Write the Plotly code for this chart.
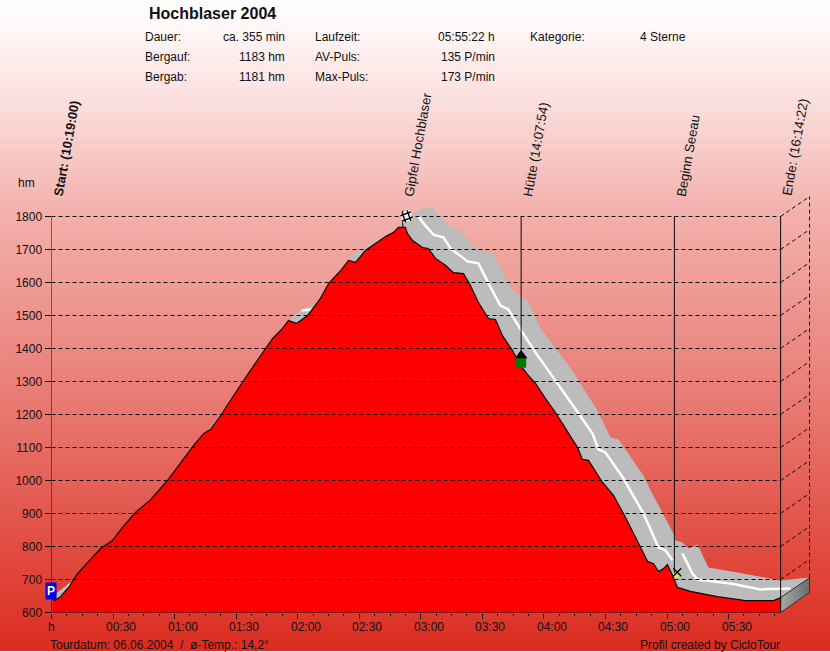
import plotly.graph_objects as go

# minutes since start / height in hm
profile_min = [0.5, 1.5, 4.4, 8.3, 12.7, 17.5, 23.9, 29.7, 34.6, 40.9, 48.3, 56.5, 62.9, 69.2, 74.1, 77.5, 82.4, 93.6,
               104.3, 107.7, 112.6, 115.5, 119.4, 124.8, 131.1, 135.0, 140.9, 144.8, 148.2, 153.0, 157.9, 162.8, 166.7,
               169.1, 172.5, 173.5, 176.0, 180.8, 183.7, 187.2, 192.0, 195.9, 200.8, 204.2, 208.1, 213.0, 216.4, 219.8,
               224.7, 228.6, 232.5, 235.9, 240.8, 245.6, 250.5, 256.4, 258.8, 261.7, 268.6, 273.9, 279.8, 284.6, 288.0,
               290.5, 293.4, 295.9, 298.3, 300.2, 302.7, 305.1, 311.4, 324.6, 338.3, 351.9, 355.4]
profile_hm = [645, 636, 648, 676, 718, 752, 794, 818, 858, 903, 942, 1000, 1052, 1106, 1142, 1155, 1197, 1303,
              1400, 1430, 1461, 1485, 1476, 1500, 1552, 1597, 1636, 1667, 1661, 1697, 1718, 1739, 1752,
              1767, 1767, 1748, 1727, 1706, 1703, 1673, 1652, 1630, 1627, 1591, 1539, 1491, 1488, 1439,
              1394, 1348, 1318, 1294, 1248, 1206, 1158, 1100, 1064, 1061, 994, 955, 888, 827, 782,
              755, 748, 724, 733, 745, 712, 676, 664, 648, 636, 636, 645]

band_min = [1.5, 2.9, 9.3, 13.2, 43.4, 111.6, 116.5, 121.4, 128.7, 133.5, 140.9, 144.8, 148.2, 153.0, 162.8, 167.7,
            170.1, 177.4, 181.3, 186.2, 188.6, 194.5, 198.4, 205.7, 215.4, 223.7, 229.6, 232.0, 238.3, 248.1, 253.9,
            257.8, 266.1, 272.5, 276.4, 288.5, 292.0, 303.2, 304.1, 307.5, 310.5, 314.9, 316.3, 320.2, 334.4, 355.3, 369.5]
band_hm = [636, 661, 691, 718, 885, 1440, 1491, 1515, 1536, 1560, 1627, 1673, 1688, 1706, 1745, 1761,
           1776, 1812, 1824, 1827, 1803, 1767, 1764, 1706, 1688, 1585, 1552, 1545, 1461, 1379, 1333,
           1294, 1212, 1130, 1124, 1015, 970, 839, 818, 812, 794, 806, 788, 736, 721, 697, 706]

white_min = [7.8, 9.7, None, 121.8, 126.7, None, 178.9, 181.3, 186.2, 191.1, 194.5, 202.8, 208.1, 213.0, 218.8, 222.7,
             229.6, 236.9, 242.2, 248.1, 256.9, 263.7, 266.6, 270.0, 278.8, 288.5, 295.9, 299.3, 302.7, None,
             307.5, 312.4, 314.9, 331.0, 345.6, 360.2]
white_hm = [679, 688, None, 1515, 1518, None, 1800, 1779, 1745, 1736, 1703, 1664, 1658, 1597, 1530, 1518,
            1448, 1379, 1333, 1282, 1203, 1142, 1094, 1085, 1006, 900, 797, 788, 758, None,
            779, 718, 700, 688, 670, 673]

event_min = [0, 228.9, 303.6, 355.37]
event_floor = [600, 1390, 720, 600]
event_labels = ["Start: (10:19:00)", "Gipfel Hochblaser", "Hütte (14:07:54)", "Beginn Seeau", "Ende: (16:14:22)"]
label_min = [0, 171, 228.9, 303.6, 355.37]

y_ticks = list(range(600, 1900, 100))
x_ticks = [0, 30, 60, 90, 120, 150, 180, 210, 240, 270, 300, 330]
x_labels = ["h", "00:30", "01:00", "01:30", "02:00", "02:30", "03:00", "03:30", "04:00", "04:30", "05:00", "05:30"]
x_minor = [i * 7.5 for i in range(48)]

info_rows = [
    ["Dauer:", "ca. 355 min", "Laufzeit:", "05:55:22 h", "Kategorie:", "4 Sterne"],
    ["Bergauf:", "1183 hm", "AV-Puls:", "135 P/min", "", ""],
    ["Bergab:", "1181 hm", "Max-Puls:", "173 P/min", "", ""],
]

END_MIN = 355.37
DX = 14.13   # depth of the 3D back wall
DY = 60.6
X_MAX = 369.94
Y_MAX = 1878.8
BLACK = "#0a0a0a"

fig = go.Figure()

# page background, white to red
rows = list(range(0, 652, 2))
fig.add_trace(go.Heatmap(z=[[r] for r in rows], y=rows, x0=415, dx=830, showscale=False, hoverinfo="skip",
                         zmin=0, zmax=652,
                         colorscale=[[0, "#ffffff"], [0.03, "#fffafa"], [0.16, "#fbdedc"], [0.33, "#f3b0ab"],
                                     [0.6, "#e97d76"], [0.92, "#df3c30"], [1, "#dc2b20"]],
                         xaxis="x", yaxis="y"))


def chart(trace):
    trace.update(xaxis="x2", yaxis="y2", hoverinfo="skip")
    fig.add_trace(trace)


# gray band behind the profile
chart(go.Scatter(x=band_min + profile_min[::-1], y=band_hm + profile_hm[::-1], mode="lines", fill="toself",
                 fillcolor="#bcbcbc", line=dict(width=0)))
chart(go.Scatter(x=white_min, y=white_hm, mode="lines", line=dict(color="white", width=2.5)))

# red profile
chart(go.Scatter(x=[profile_min[0]] + profile_min + [END_MIN, 0, 0],
                 y=[600] + profile_hm + [600, 600, profile_hm[0]],
                 mode="none", fill="toself", fillcolor="#ff0000"))
chart(go.Scatter(x=profile_min, y=profile_hm, mode="lines", line=dict(color=BLACK, width=1.2)))

# block at the end of the profile
chart(go.Scatter(x=[END_MIN, END_MIN + DX, END_MIN + DX, END_MIN, END_MIN],
                 y=[profile_hm[-1], profile_hm[-1] + DY, 600 + DY, 600, profile_hm[-1]],
                 mode="lines", line=dict(color="#303030", width=1), fill="toself",
                 fillgradient=dict(type="horizontal", colorscale=[[0, "#a8a8a8"], [1, "#6c6c6c"]])))

# grid and back wall
grid_x, grid_y = [], []
for v in y_ticks[1:]:
    grid_x += [0, END_MIN, None]
    grid_y += [v, v, None]
chart(go.Scatter(x=grid_x, y=grid_y, mode="lines", line=dict(color=BLACK, width=1, dash="4px,3px")))
wall_x, wall_y = [], []
for v in y_ticks[1:]:
    wall_x += [END_MIN, END_MIN + DX, None]
    wall_y += [v, v + DY, None]
wall_x += [END_MIN + DX, END_MIN + DX]
wall_y += [profile_hm[-1] + DY, 1800 + DY]
chart(go.Scatter(x=wall_x, y=wall_y, mode="lines", line=dict(color=BLACK, width=1, dash="4px,3px")))

# event lines and base axis
ev_x, ev_y = [], []
for m, f in zip(event_min, event_floor):
    ev_x += [m, m, None]
    ev_y += [1800, f, None]
chart(go.Scatter(x=ev_x + [0, END_MIN], y=ev_y + [600, 600], mode="lines", line=dict(color=BLACK, width=1)))

# icons: flag, hut, walker
chart(go.Scatter(x=[171.2, 171.2], y=[1767, 1818], mode="lines", line=dict(color=BLACK, width=1)))
chart(go.Scatter(x=[173], y=[1800], mode="markers",
                 marker=dict(symbol="square", size=10, color="white", angle=-20)))
chart(go.Scatter(x=[173], y=[1800], mode="markers",
                 marker=dict(symbol="hash-open", size=11, angle=-20, color=BLACK, line=dict(color=BLACK, width=1.5))))
chart(go.Scatter(x=[228.9], y=[1357], mode="markers", marker=dict(symbol="square", size=10, color="#007a00")))
chart(go.Scatter(x=[228.9], y=[1379], mode="markers", marker=dict(symbol="triangle-up", size=11, color="black")))
chart(go.Scatter(x=[304.5], y=[712], mode="markers", marker=dict(symbol="diamond", size=5, color="#f5e642")))
chart(go.Scatter(x=[305], y=[722], mode="markers",
                 marker=dict(symbol="x-thin-open", size=8, color="black", line=dict(color="black", width=1.2))))

annotations = []


def px_text(x, y, text, size=12, bold=False, anchor="left"):
    annotations.append(dict(x=x, y=y, xref="x", yref="y", text=f"<b>{text}</b>" if bold else text, showarrow=False,
                            xanchor=anchor, yanchor="middle", borderpad=0, borderwidth=0,
                            font=dict(size=size, color="#111111")))


px_text(149, 13, "Hochblaser 2004", size=16, bold=True)
for row, y in zip(info_rows, [37, 57, 77]):
    px_text(145, y, row[0])
    px_text(285, y, row[1], anchor="right")
    px_text(315, y, row[2])
    px_text(495, y, row[3], anchor="right")
    if row[4]:
        px_text(530, y, row[4])
        px_text(640, y, row[5])
px_text(18, 183, "hm")
px_text(50, 645, "Tourdatum: 06.06.2004  /  ø-Temp.: 14,2°")
px_text(780, 645, "Profil created by CicloTour", anchor="right")

for i, (m, label) in enumerate(zip(label_min, event_labels)):
    annotations.append(dict(x=m, y=1858, xref="x2", yref="y2", text=f"<b>{label}</b>" if i == 0 else label,
                            showarrow=False, textangle=-80, xanchor="left", yanchor="bottom", xshift=-1,
                            borderpad=0, borderwidth=0,
                            font=dict(size=12.8 if i == 0 else 13.2, color="#111111")))

# hour labels sit to the right of their ticks
for m, label in zip(x_ticks, x_labels):
    annotations.append(dict(x=m, y=600, xref="x2", yref="y2", text=label, showarrow=False, yanchor="top", yshift=-7,
                            xshift=8 if m else 0, borderpad=0, borderwidth=0, font=dict(size=12, color="#111111")))

annotations.append(dict(x=0, y=665, xref="x2", yref="y2", text="<b>P</b>", showarrow=False, xanchor="right", xshift=5,
                        bgcolor="#0000e6", borderpad=1, font=dict(size=12, color="white")))

fig.update_layout(
    width=830, height=652, margin=dict(l=0, r=0, t=0, b=0, autoexpand=False), showlegend=False,
    paper_bgcolor="white", plot_bgcolor="rgba(0,0,0,0)",
    font=dict(family="Liberation Sans, Arial, sans-serif", size=12, color="#111111"),
    annotations=annotations,
    xaxis=dict(domain=[0, 1], range=[0, 830], visible=False, fixedrange=True),
    yaxis=dict(domain=[0, 1], range=[652, 0], visible=False, fixedrange=True),
    xaxis2=dict(domain=[51.5 / 830, 810.5 / 830], range=[0, X_MAX], anchor="y2", showgrid=False, zeroline=False,
                tickvals=x_ticks, showticklabels=False, ticks="outside", ticklen=5, tickcolor=BLACK, tickwidth=1,
                minor=dict(tickvals=x_minor, ticks="outside", ticklen=2, tickcolor=BLACK, showgrid=False)),
    yaxis2=dict(domain=[39.5 / 652, 461.5 / 652], range=[600, Y_MAX], anchor="x2", showgrid=False, zeroline=False,
                tickvals=y_ticks, ticks="outside", ticklen=6, tickcolor=BLACK, tickwidth=1,
                tickfont=dict(size=12, color="#111111")),
)

fig.write_html("out.html", config=dict(displayModeBar=False), post_script="document.body.style.margin='0';")
